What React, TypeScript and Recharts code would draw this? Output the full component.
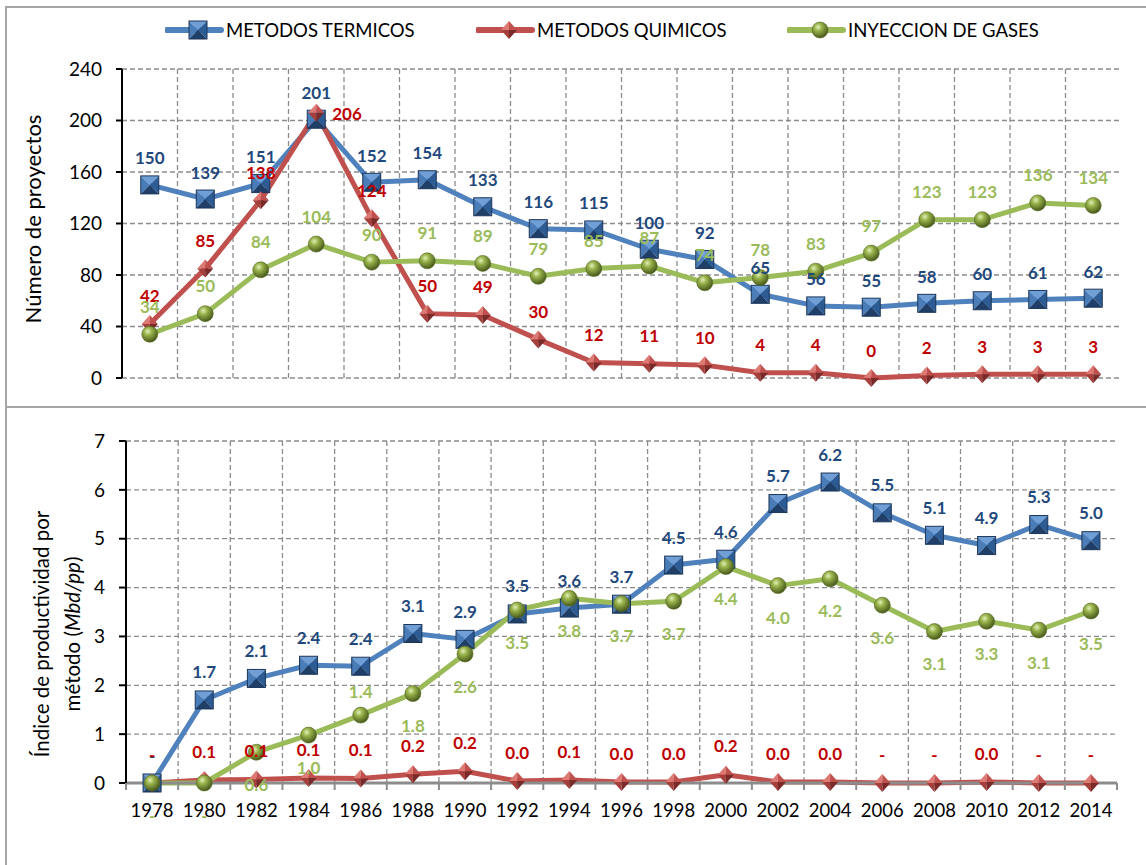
import React from "react";
import { LineChart, Line, XAxis, YAxis, CartesianGrid, LabelList } from "recharts";

const FONT = "Lato, 'Open Sans', sans-serif";

const seriesNames = ["METODOS TERMICOS", "METODOS QUIMICOS", "INYECCION DE GASES"];

// panel superior: número de proyectos
const periodosProyectos = ["1980", "1982", "1984", "1986", "1988", "1990", "1992", "1994", "1996", "1998", "2000", "2002", "2004", "2006", "2008", "2010", "2012", "2014"];
const proyTermicos = [150, 139, 151, 201, 152, 154, 133, 116, 115, 100, 92, 65, 56, 55, 58, 60, 61, 62];
const proyQuimicos = [42, 85, 138, 206, 124, 50, 49, 30, 12, 11, 10, 4, 4, 0, 2, 3, 3, 3];
const proyGases = [34, 50, 84, 104, 90, 91, 89, 79, 85, 87, 74, 78, 83, 97, 123, 123, 136, 134];
const proyTicks = [0, 40, 80, 120, 160, 200, 240];

// panel inferior: índice de productividad (Mbd/pp)
const aniosIndice = ["1978", "1980", "1982", "1984", "1986", "1988", "1990", "1992", "1994", "1996", "1998", "2000", "2002", "2004", "2006", "2008", "2010", "2012", "2014"];
const indTermicos = [0, 1.7, 2.14, 2.41, 2.39, 3.06, 2.94, 3.46, 3.58, 3.66, 4.46, 4.58, 5.72, 6.16, 5.53, 5.07, 4.86, 5.29, 4.96];
const indQuimicos = [0, 0.06, 0.07, 0.1, 0.09, 0.18, 0.24, 0.04, 0.06, 0.02, 0.02, 0.17, 0.02, 0.02, 0, 0, 0.02, 0, 0];
const indGases = [0, 0, 0.63, 0.98, 1.39, 1.83, 2.64, 3.54, 3.78, 3.67, 3.72, 4.43, 4.04, 4.18, 3.64, 3.1, 3.31, 3.13, 3.52];
const indTicks = [0, 1, 2, 3, 4, 5, 6, 7];

const topData = periodosProyectos.map((anio, i) => ({
  anio,
  termicos: proyTermicos[i],
  quimicos: proyQuimicos[i],
  gases: proyGases[i],
}));

const bottomData = aniosIndice.map((anio, i) => ({
  anio,
  termicos: indTermicos[i],
  quimicos: indQuimicos[i],
  gases: indGases[i],
}));

const BLUE = "#4F81BD";
const RED = "#C0504D";
const GREEN = "#9BBB59";
const BLUE_TXT = "#1F497D";
const RED_TXT = "#C00000";
const GRID = "#8c8c8c";

const W = 1146;
const BOT_MARGIN = { top: 31, right: 29, bottom: 42, left: 0 };
const BOT_YW = 126;
const BOT_BAND = (W - BOT_MARGIN.left - BOT_MARGIN.right - BOT_YW) / aniosIndice.length;

// marcadores
const SquareDot = ({ cx, cy, s = 9 }: any) => {
  if (cx == null || cy == null) return null;
  return (
    <g>
      <polygon points={`${cx - s},${cy - s} ${cx + s},${cy - s} ${cx},${cy}`} fill="#6f9fd6" />
      <polygon points={`${cx - s},${cy - s} ${cx - s},${cy + s} ${cx},${cy}`} fill="#4a7cb8" />
      <polygon points={`${cx + s},${cy - s} ${cx + s},${cy + s} ${cx},${cy}`} fill="#2d5b93" />
      <polygon points={`${cx - s},${cy + s} ${cx + s},${cy + s} ${cx},${cy}`} fill="#1f3f68" />
      <rect x={cx - s} y={cy - s} width={2 * s} height={2 * s} fill="none" stroke="#1c365a" strokeWidth={1} />
    </g>
  );
};

const DiamondDot = ({ cx, cy, s = 9 }: any) => {
  if (cx == null || cy == null) return null;
  const w = s - 1;
  return (
    <g>
      <polygon points={`${cx},${cy - s} ${cx - w},${cy} ${cx},${cy}`} fill="#de7a74" />
      <polygon points={`${cx},${cy - s} ${cx + w},${cy} ${cx},${cy}`} fill="#c0504d" />
      <polygon points={`${cx - w},${cy} ${cx},${cy + s} ${cx},${cy}`} fill="#a53f3c" />
      <polygon points={`${cx + w},${cy} ${cx},${cy + s} ${cx},${cy}`} fill="#7a2a28" />
    </g>
  );
};

const SphereDot = ({ cx, cy, s = 8 }: any) => {
  if (cx == null || cy == null) return null;
  return <circle cx={cx} cy={cy} r={s} fill="url(#gasSphere)" stroke="#55691f" strokeWidth={0.6} />;
};

const SphereDefs = () => (
  <defs>
    <radialGradient id="gasSphere" cx="38%" cy="32%" r="70%">
      <stop offset="0%" stopColor="#e2efb8" />
      <stop offset="35%" stopColor="#98b24a" />
      <stop offset="100%" stopColor="#45561a" />
    </radialGradient>
  </defs>
);

type Place = "top" | "bottom" | "right";

const makeLabel =
  (color: string, fmt: (v: number) => string, place: (i: number) => Place, up: number, down: number) =>
  (p: any) => {
    const vb = p.viewBox || {};
    const x = p.x ?? vb.x;
    const y = p.y ?? vb.y;
    if (x == null || y == null) return null;
    const where = place(p.index);
    let tx = x;
    let ty = y - up;
    let anchor: any = "middle";
    if (where === "bottom") ty = y + down;
    if (where === "right") {
      tx = x + 16;
      ty = y + 1;
      anchor = "start";
    }
    return (
      <text
        x={tx}
        y={ty}
        fill={color}
        fontSize={17}
        fontWeight="bold"
        fontFamily={FONT}
        textAnchor={anchor}
        dominantBaseline="central"
      >
        {fmt(p.value)}
      </text>
    );
  };

const intFmt = (v: number) => String(v);
const decFmt = (v: number) => (v === 0 ? "-" : v.toFixed(1));

// bordes de categoría para la rejilla vertical
const bandBounds = (n: number) => ({ offset }: any) =>
  Array.from({ length: n - 1 }, (_, i) => offset.left + (offset.width * (i + 1)) / n);

const YearTick = (p: any) => {
  const { x, y, payload, index } = p;
  const half = BOT_BAND / 2;
  return (
    <g>
      <line x1={x - half} x2={x - half} y1={y - 7} y2={y} stroke={GRID} strokeWidth={2} />
      {index === aniosIndice.length - 1 && (
        <line x1={x + half} x2={x + half} y1={y - 7} y2={y} stroke={GRID} strokeWidth={2} />
      )}
      <text x={x} y={y + 27} textAnchor="middle" fill="#000" fontSize={18.5} fontFamily={FONT}>
        {payload.value}
      </text>
    </g>
  );
};

const LegendItem = ({ left, name, marker, color }: any) => (
  <div style={{ position: "absolute", left, top: 18, height: 24, display: "flex", alignItems: "center" }}>
    <svg width={61} height={24}>
      <line x1={2} x2={56} y1={12} y2={12} stroke={color} strokeWidth={6} strokeLinecap="round" />
      {marker === "square" && <SquareDot cx={33} cy={12} s={9} />}
      {marker === "diamond" && <DiamondDot cx={33} cy={12} s={9} />}
      {marker === "sphere" && <SphereDot cx={33} cy={12} s={8} />}
    </svg>
    <span style={{ fontFamily: FONT, fontSize: 18.5, color: "#000", whiteSpace: "nowrap" }}>{name}</span>
  </div>
);

export default function App() {
  const frame = { stroke: "#000", strokeWidth: 2 };
  const yTick = { fill: "#000", fontSize: 19, fontFamily: FONT };

  return (
    <div style={{ position: "absolute", left: 0, top: 0, width: W, height: 865, overflow: "hidden", background: "#fff" }}>
      <svg width={0} height={0} style={{ position: "absolute" }}>
        <SphereDefs />
      </svg>
      <div style={{ position: "absolute", left: 5, top: 6, width: 1160, height: 880, border: "2px solid #a6a6a6" }} />
      <div style={{ position: "absolute", left: 5, top: 406, width: 1150, height: 2, background: "#a6a6a6" }} />

      <LegendItem left={165} name={seriesNames[0]} marker="square" color={BLUE} />
      <LegendItem left={476} name={seriesNames[1]} marker="diamond" color={RED} />
      <LegendItem left={787} name={seriesNames[2]} marker="sphere" color={GREEN} />

      <div
        style={{
          position: "absolute",
          left: 32,
          top: 219,
          transform: "translate(-50%, -50%) rotate(-90deg)",
          fontFamily: FONT,
          fontSize: 22,
          whiteSpace: "nowrap",
          color: "#000",
        }}
      >
        Número de proyectos
      </div>
      <div
        style={{
          position: "absolute",
          left: 57,
          top: 634,
          transform: "translate(-50%, -50%) rotate(-90deg)",
          fontFamily: FONT,
          fontSize: 20.5,
          lineHeight: "31px",
          whiteSpace: "nowrap",
          textAlign: "center",
          color: "#000",
        }}
      >
        Índice de productividad por
        <br />
        método (<i>Mbd/pp</i>)
      </div>

      <div style={{ position: "absolute", left: 0, top: 0 }}>
        <LineChart width={W} height={400} data={topData} margin={{ top: 69, right: 25, bottom: 22, left: 0 }}>
          <CartesianGrid
            stroke={GRID}
            strokeDasharray="5 3"
            strokeWidth={1.3}
            verticalCoordinatesGenerator={bandBounds(topData.length)}
          />
          <XAxis dataKey="anio" scale="band" tick={false} tickLine={false} axisLine={frame} height={0} />
          <XAxis xAxisId="marco" orientation="top" dataKey="anio" scale="band" tick={false} tickLine={false} axisLine={frame} height={0} />
          <YAxis
            domain={[0, 240]}
            ticks={proyTicks}
            width={122}
            tick={yTick}
            tickSize={6}
            tickMargin={14}
            tickLine={frame}
            axisLine={frame}
            interval={0}
          />
          <YAxis yAxisId="marco" orientation="right" tick={false} tickLine={false} axisLine={frame} width={0} />
          <Line
            dataKey="termicos"
            name={seriesNames[0]}
            stroke={BLUE}
            strokeWidth={5}
            strokeLinejoin="round"
            dot={(d: any) => <SquareDot key={`t${d.index}`} cx={d.cx} cy={d.cy} />}
            activeDot={false}
            isAnimationActive={false}
          >
            <LabelList dataKey="termicos" content={makeLabel(BLUE_TXT, intFmt, () => "top", 27, 30)} />
          </Line>
          <Line
            dataKey="quimicos"
            name={seriesNames[1]}
            stroke={RED}
            strokeWidth={5}
            strokeLinejoin="round"
            dot={(d: any) => <DiamondDot key={`q${d.index}`} cx={d.cx} cy={d.cy} />}
            activeDot={false}
            isAnimationActive={false}
          >
            <LabelList
              dataKey="quimicos"
              content={makeLabel(RED_TXT, intFmt, (i) => (i === 3 ? "right" : "top"), 28, 30)}
            />
          </Line>
          <Line
            dataKey="gases"
            name={seriesNames[2]}
            stroke={GREEN}
            strokeWidth={5}
            strokeLinejoin="round"
            dot={(d: any) => <SphereDot key={`g${d.index}`} cx={d.cx} cy={d.cy} />}
            activeDot={false}
            isAnimationActive={false}
          >
            <LabelList dataKey="gases" content={makeLabel(GREEN, intFmt, () => "top", 28, 30)} />
          </Line>
        </LineChart>
      </div>

      <div style={{ position: "absolute", left: 0, top: 410 }}>
        <LineChart width={W} height={455} data={bottomData} margin={BOT_MARGIN}>
          <CartesianGrid
            stroke={GRID}
            strokeDasharray="5 3"
            strokeWidth={1.3}
            verticalCoordinatesGenerator={bandBounds(bottomData.length)}
          />
          <XAxis
            dataKey="anio"
            scale="band"
            height={40}
            interval={0}
            tickSize={7}
            tickMargin={0}
            tickLine={false}
            axisLine={{ stroke: GRID, strokeWidth: 3 }}
            tick={<YearTick />}
          />
          <XAxis xAxisId="marco" orientation="top" dataKey="anio" scale="band" tick={false} tickLine={false} axisLine={frame} height={0} />
          <YAxis
            domain={[0, 7]}
            ticks={indTicks}
            width={BOT_YW}
            tick={yTick}
            tickSize={7}
            tickMargin={14}
            tickLine={frame}
            axisLine={frame}
            interval={0}
          />
          <YAxis yAxisId="marco" orientation="right" tick={false} tickLine={false} axisLine={frame} width={0} />
          <Line
            dataKey="termicos"
            name={seriesNames[0]}
            stroke={BLUE}
            strokeWidth={5}
            strokeLinejoin="round"
            dot={(d: any) => <SquareDot key={`bt${d.index}`} cx={d.cx} cy={d.cy} />}
            activeDot={false}
            isAnimationActive={false}
          >
            <LabelList dataKey="termicos" content={makeLabel(BLUE_TXT, decFmt, () => "top", 28, 32)} />
          </Line>
          <Line
            dataKey="quimicos"
            name={seriesNames[1]}
            stroke={RED}
            strokeWidth={5}
            strokeLinejoin="round"
            dot={(d: any) => <DiamondDot key={`bq${d.index}`} cx={d.cx} cy={d.cy} />}
            activeDot={false}
            isAnimationActive={false}
          >
            <LabelList dataKey="quimicos" content={makeLabel(RED_TXT, decFmt, () => "top", 29, 32)} />
          </Line>
          <Line
            dataKey="gases"
            name={seriesNames[2]}
            stroke={GREEN}
            strokeWidth={5}
            strokeLinejoin="round"
            dot={(d: any) => <SphereDot key={`bg${d.index}`} cx={d.cx} cy={d.cy} />}
            activeDot={false}
            isAnimationActive={false}
          >
            <LabelList
              dataKey="gases"
              content={makeLabel(GREEN, decFmt, (i) => (i === 4 ? "top" : "bottom"), 24, 32)}
            />
          </Line>
        </LineChart>
      </div>
    </div>
  );
}
